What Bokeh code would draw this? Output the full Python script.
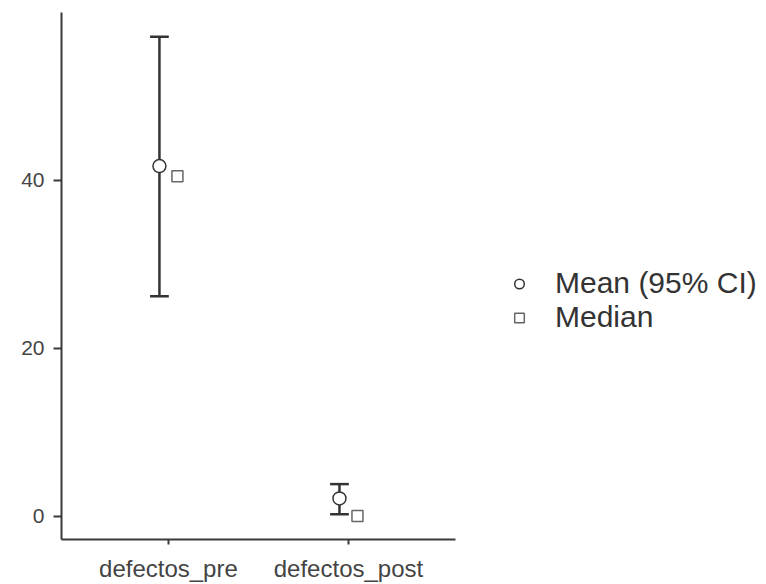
from bokeh.plotting import figure
from bokeh.models import Range1d, Legend, LegendItem, FixedTicker, ColumnDataSource
from bokeh.transform import dodge
from bokeh.embed import file_html
from bokeh.resources import INLINE

categories = ["defectos_pre", "defectos_post"]
means = [41.7, 2.1]
ci_lower = [26.2, 0.2]
ci_upper = [57.1, 3.8]
medians = [40.5, 0.0]
y_ticks = [0, 20, 40]

# category positions on the axis (category i sits at i + 0.5)
xpos = [i + 0.5 for i in range(len(categories))]
src = ColumnDataSource(dict(x=xpos, cat=categories, mean=means, lo=ci_lower, hi=ci_upper, med=medians))

p = figure(width=766, height=584,
           x_range=Range1d(-0.094, 3.822),
           y_range=Range1d(-2.8, 60),
           output_backend="svg", toolbar_location=None,
           min_border_left=61, min_border_right=0, min_border_top=12, min_border_bottom=44)

p.xgrid.visible = False
p.ygrid.visible = False
p.outline_line_color = None
p.background_fill_color = "white"
p.border_fill_color = "white"

dark = "#333333"
p.segment(x0=dodge("x", -0.05), x1=dodge("x", -0.05), y0="lo", y1="hi",
          source=src, line_color=dark, line_width=2.5)
p.segment(x0=dodge("x", -0.102), x1=dodge("x", 0.002), y0="hi", y1="hi",
          source=src, line_color=dark, line_width=2.5)
p.segment(x0=dodge("x", -0.102), x1=dodge("x", 0.002), y0="lo", y1="lo",
          source=src, line_color=dark, line_width=2.5)
circ = p.scatter(x=dodge("x", -0.05), y="mean", source=src, marker="circle", size=13,
                 fill_color="white", line_color=dark, line_width=1.5)
sq = p.scatter(x=dodge("x", 0.05), y="med", source=src, marker="square", size=11,
               fill_color="white", line_color="#666666", line_width=1.5)

for ax in (p.xaxis[0], p.yaxis[0]):
    ax.axis_line_width = 2
    ax.axis_line_color = "#3a3a3a"
    ax.major_tick_line_width = 2
    ax.major_tick_line_color = "#3a3a3a"
    ax.major_tick_in = 0
    ax.minor_tick_line_color = None
    ax.major_label_text_font = "Liberation Sans"
    ax.major_label_text_color = "#444444"

p.yaxis.ticker = FixedTicker(ticks=y_ticks)
p.yaxis.major_tick_out = 8
p.yaxis.major_label_standoff = 9
p.yaxis.major_label_text_font_size = "21px"

p.xaxis.ticker = FixedTicker(ticks=xpos)
p.xaxis.major_label_overrides = {x: c for x, c in zip(xpos, categories)}
p.xaxis.bounds = (-0.094, len(categories) + 0.094)
p.xaxis.major_tick_out = 5
p.xaxis.major_label_standoff = 10
p.xaxis.major_label_text_font_size = "24px"

legend = Legend(items=[LegendItem(label="Mean (95% CI)", renderers=[circ]),
                       LegendItem(label="Median", renderers=[sq])],
                location=(446, 205), orientation="vertical",
                border_line_color=None, background_fill_alpha=0,
                padding=0, margin=0, spacing=0,
                glyph_width=24, glyph_height=33, label_height=33,
                label_standoff=24,
                label_text_font="Liberation Sans", label_text_font_size="30px",
                label_text_color="#333333")
p.add_layout(legend, "center")

open("out.html", "w").write(file_html(p, INLINE))
